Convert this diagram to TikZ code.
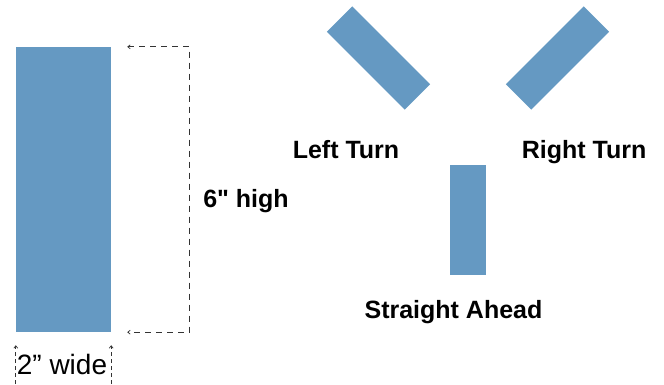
\documentclass[tikz,border=0pt]{standalone}
\usepackage{fontspec}
\setmainfont{Liberation Sans}[Ligatures=TeXOff]
\usetikzlibrary{arrows.meta}
\definecolor{barblue}{RGB}{101,153,194}

\begin{document}
\begin{tikzpicture}[x=1pt,y=1pt,
  bar/.style={fill=barblue,inner sep=0,minimum width=36pt,minimum height=110pt},
  lbl/.style={font=\fontsize{25}{30}\selectfont\bfseries,inner sep=0,anchor=base},
  dimline/.style={black!80,line width=0.7pt,dash pattern=on 6pt off 5pt,
    >={Straight Barb[length=2.5pt,width=4pt]}}]
\useasboundingbox (0,0) rectangle (664,384);
% the bars
\node[bar,minimum width=95pt,minimum height=285pt] (tall) at (63.5,194.5) {};
\node[bar,rotate=45] (left) at (378.5,326) {};
\node[bar,rotate=-45] (right) at (557.5,326) {};
\node[bar] (straight) at (468,164) {};
% labels
\node[lbl] (leftlbl) at (346,226) {Left Turn};
\node[lbl] (rightlbl) at (584,226) {Right Turn};
\node[lbl] (straightlbl) at (453.5,66) {Straight Ahead};
\node[lbl] (highlbl) at (246,177) {6" high};
\node[lbl,font=\fontsize{28}{32}\selectfont] (widelbl) at (62,10) {2” wide};
% dimensions
\draw[dimline,<->] ([xshift=16pt]tall.north east) -| ([xshift=78pt]tall.south east)
  -- ([xshift=16pt]tall.south east);
\foreach \a in {south west,south east}
  \draw[dimline,dash pattern=on 4pt off 3pt,->] (tall.\a |- 0,0) -- ([yshift=-13pt]tall.\a);
\end{tikzpicture}
\end{document}
